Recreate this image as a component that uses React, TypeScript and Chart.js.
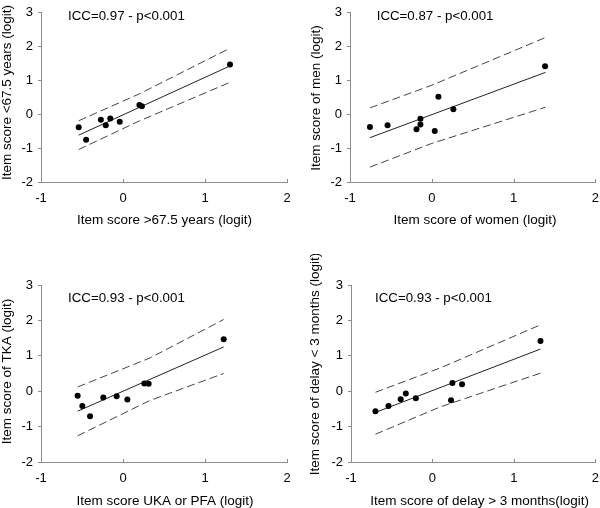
import React, { useEffect, useRef } from "react";
import { Chart, registerables } from "chart.js";
Chart.register(...registerables);

const FONT = "'Liberation Sans', Arial, sans-serif";
const AXIS = "#8c8c8c";

// Panel 1: age
const ageX = [-0.54, -0.45, -0.27, -0.21, -0.155, -0.04, 0.2, 0.23, 1.305];
const ageY = [-0.38, -0.75, -0.16, -0.32, -0.12, -0.22, 0.275, 0.24, 1.47];
const ageFitX = [-0.54, 1.305];
const ageFitY = [-0.615, 1.43];
const ageBandX = [-0.54, 0.2, 1.305];
const ageUpper = [-0.19, 0.605, 1.955];
const ageLower = [-1.04, -0.195, 0.945];

// Panel 2: gender
const sexX = [-0.756, -0.541, -0.187, -0.139, -0.139, 0.036, 0.081, 0.264, 1.385];
const sexY = [-0.377, -0.32, -0.44, -0.13, -0.3, -0.49, 0.52, 0.153, 1.417];
const sexFitX = [-0.756, 1.39];
const sexFitY = [-0.69, 1.24];
const sexBandX = [-0.756, 0.0, 1.39];
const sexUpper = [0.19, 0.86, 2.27];
const sexLower = [-1.56, -0.86, 0.21];

// Panel 3: surgery type
const surgX = [-0.553, -0.496, -0.402, -0.24, -0.077, 0.053, 0.26, 0.313, 1.228];
const surgY = [-0.13, -0.42, -0.71, -0.18, -0.14, -0.235, 0.217, 0.207, 1.47];
const surgFitX = [-0.553, 1.228];
const surgFitY = [-0.565, 1.25];
const surgBandX = [-0.553, 0.33, 1.228];
const surgUpper = [0.12, 0.94, 2.025];
const surgLower = [-1.26, -0.26, 0.5];

// Panel 4: delay
const delayX = [-0.7, -0.54, -0.39, -0.327, -0.204, 0.228, 0.245, 0.363, 1.326];
const delayY = [-0.565, -0.42, -0.226, -0.066, -0.198, -0.254, 0.235, 0.198, 1.42];
const delayFitX = [-0.7, 1.326];
const delayFitY = [-0.6, 1.19];
const delayBandX = [-0.7, 0.1, 1.326];
const delayUpper = [-0.03, 0.66, 1.875];
const delayLower = [-1.215, -0.44, 0.51];

const xTicksRange = [-1, 2];
const yTicksRange = [-2, 3];

const iccLabels = ["ICC=0.97 - p<0.001", "ICC=0.87 - p<0.001", "ICC=0.93 - p<0.001", "ICC=0.93 - p<0.001"];
const xTitles = [
  "Item score >67.5 years (logit)",
  "Item score of women (logit)",
  "Item score UKA or PFA (logit)",
  "Item score of delay > 3 months(logit)",
];
const yTitles = [
  "Item score <67.5 years (logit)",
  "Item score of men (logit)",
  "Item score of TKA (logit)",
  "Item score of delay < 3 months (logit)",
];

const zip = (xs: number[], ys: number[]) => xs.map((x, i) => ({ x, y: ys[i] }));

const panels = [
  {
    pos: { left: 0, top: 0 }, area: { left: 41, right: 287, top: 6, bottom: 182 },
    yT: { x: 7, y: 92.5 }, xT: { x: 164.5, y: 220 }, icc: { x: 68, y: 16 },
    px: ageX, py: ageY, fx: ageFitX, fy: ageFitY, bx: ageBandX, bu: ageUpper, bl: ageLower,
  },
  {
    pos: { left: 300, top: 0 }, area: { left: 50, right: 296, top: 6, bottom: 182 },
    yT: { x: 16, y: 98 }, xT: { x: 175, y: 220 }, icc: { x: 76.7, y: 16 },
    px: sexX, py: sexY, fx: sexFitX, fy: sexFitY, bx: sexBandX, bu: sexUpper, bl: sexLower,
  },
  {
    pos: { left: 0, top: 254 }, area: { left: 41, right: 287, top: 31, bottom: 208 },
    yT: { x: 7, y: 117.5 }, xT: { x: 165, y: 247 }, icc: { x: 68, y: 44.3 },
    px: surgX, py: surgY, fx: surgFitX, fy: surgFitY, bx: surgBandX, bu: surgUpper, bl: surgLower,
  },
  {
    pos: { left: 300, top: 254 }, area: { left: 51, right: 296, top: 31, bottom: 208 },
    yT: { x: 15.3, y: 110 }, xT: { x: 179.7, y: 247 }, icc: { x: 75, y: 44.3 },
    px: delayX, py: delayY, fx: delayFitX, fy: delayFitY, bx: delayBandX, bu: delayUpper, bl: delayLower,
  },
];

const textPlugin = {
  id: "panelText",
  afterDraw(chart: any, _args: any, opts: any) {
    const ctx = chart.ctx;
    ctx.save();
    // inward x tick marks
    const xs = chart.scales.x;
    const area = chart.chartArea;
    ctx.strokeStyle = AXIS;
    ctx.lineWidth = 1;
    xs.ticks.forEach((tk: any) => {
      const p = Math.round(xs.getPixelForValue(tk.value)) + 0.5;
      ctx.beginPath();
      ctx.moveTo(p, area.bottom);
      ctx.lineTo(p, area.bottom - 3);
      ctx.stroke();
    });
    ctx.fillStyle = "#000";
    ctx.textBaseline = "middle";
    for (const t of opts.items) {
      ctx.save();
      ctx.font = `${t.size}px ${FONT}`;
      ctx.translate(t.x, t.y);
      if (t.rotate) ctx.rotate(-Math.PI / 2);
      ctx.textAlign = t.align || "center";
      ctx.fillText(t.text, 0, 0);
      ctx.restore();
    }
    ctx.restore();
  },
};

function Panel({ idx }: { idx: number }) {
  const ref = useRef<HTMLCanvasElement>(null);
  const p = panels[idx];
  useEffect(() => {
    const lineDs = (data: any[], dash: number[], color: string) => ({
      data,
      showLine: true,
      borderColor: color,
      borderWidth: 1,
      borderDash: dash,
      pointRadius: 0,
      fill: false,
    });
    const chart = new Chart(ref.current!, {
      type: "scatter",
      data: {
        datasets: [
          {
            data: zip(p.px, p.py),
            pointRadius: 3,
            pointBackgroundColor: "#000",
            pointBorderColor: "#000",
            pointBorderWidth: 0,
            showLine: false,
          } as any,
          lineDs(zip(p.fx, p.fy), [], "#222"),
          lineDs(zip(p.bx, p.bu), [8, 4], "#444"),
          lineDs(zip(p.bx, p.bl), [8, 4], "#444"),
        ],
      },
      options: {
        animation: false,
        responsive: false,
        events: [],
        layout: { padding: { left: 0, top: p.area.top, right: 300 - p.area.right, bottom: 0 } },
        plugins: {
          legend: { display: false },
          tooltip: { enabled: false },
          panelText: {
            items: [
              { text: iccLabels[idx], x: p.icc.x, y: p.icc.y, align: "left", size: 13.3 },
              { text: xTitles[idx], x: p.xT.x, y: p.xT.y, size: 13.5 },
              { text: yTitles[idx], x: p.yT.x, y: p.yT.y, rotate: true, size: 13.5 },
            ],
          },
        } as any,
        scales: {
          x: {
            type: "linear",
            min: xTicksRange[0],
            max: xTicksRange[1],
            ticks: { stepSize: 1, padding: 1, color: "#000", font: { family: FONT, size: 13 } },
            grid: { display: false },
            border: { display: true, color: AXIS, width: 1 },
            afterFit: (s: any) => { s.height = 254 - p.area.bottom; },
          },
          y: {
            type: "linear",
            min: yTicksRange[0],
            max: yTicksRange[1],
            ticks: { stepSize: 1, padding: 5, color: "#000", font: { family: FONT, size: 13 } },
            grid: { display: true, drawOnChartArea: false, drawTicks: true, tickLength: 3, color: AXIS },
            border: { display: true, color: AXIS, width: 1 },
            afterFit: (s: any) => { s.width = p.area.left; },
          },
        },
      },
      plugins: [textPlugin as any],
    });
    return () => chart.destroy();
  }, []);
  return (
    <canvas
      ref={ref}
      width={300}
      height={254}
      style={{ position: "absolute", left: p.pos.left, top: p.pos.top, width: 300, height: 254 }}
    />
  );
}

export default function App() {
  return (
    <div style={{ position: "absolute", left: 0, top: 0, width: 600, height: 508, background: "#fff" }}>
      {panels.map((_, i) => (
        <Panel key={i} idx={i} />
      ))}
    </div>
  );
}
